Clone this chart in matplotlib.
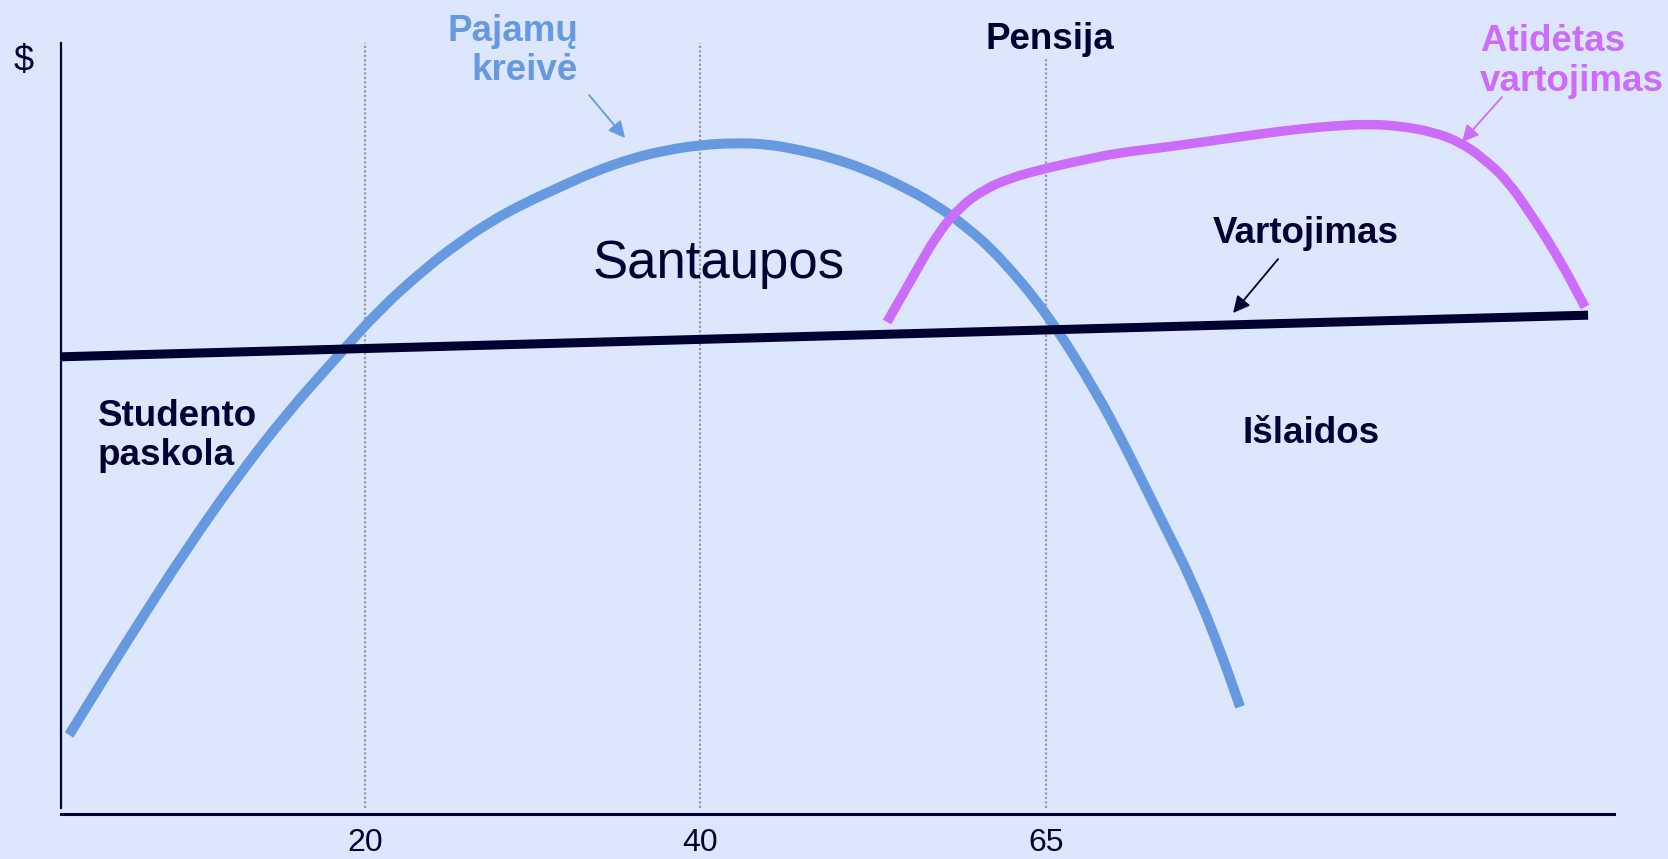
import matplotlib
matplotlib.use("Agg")
import matplotlib.pyplot as plt
from matplotlib.path import Path
from matplotlib.patches import PathPatch

plt.rcParams['font.family'] = ['Liberation Sans', 'DejaVu Sans']

#* Colours
BG = "#dce6fd"
NAVY = "#000033"
BLUE = "#6699e0"
PURPLE = "#cc6cfa"
GREY = "#999999"

#* Data (abstract life-time units on x, $ on y, both 0..100)
income_x = [0.52, 2.70, 5.41, 8.18, 11.20, 14.55, 17.77, 20.54, 23.57, 25.69, 27.82,
            30.01, 32.13, 34.26, 36.83, 39.02, 41.15, 43.27, 45.46, 47.59, 49.71, 51.9,
            54.02, 56.15, 58.34, 60.46, 63.49, 66.71, 68.64, 70.77, 72.89, 74.63, 75.92]
income_y = [10.25, 17.38, 26.07, 34.63, 43.32, 52.01, 59.27, 65.5, 70.95, 74.19, 77.04,
            79.38, 81.32, 83.27, 85.08, 86.12, 86.77, 87.03, 86.9, 86.12, 85.08, 83.53,
            81.58, 79.25, 76.13, 72.24, 64.98, 54.6, 47.2, 38.5, 30.0, 21.3, 13.9]

deferred_x = [53.19, 54.99, 56.47, 57.89, 59.37, 61.11, 63.49, 65.81, 68.0, 71.22,
              74.44, 77.66, 79.78, 81.91, 84.1, 86.22, 88.35, 90.08, 91.57, 93.11,
              94.78, 96.52, 98.13]
deferred_y = [63.81, 70.17, 75.36, 78.73, 80.93, 82.49, 83.79, 84.82, 85.73, 86.51,
              87.42, 88.33, 88.85, 89.24, 89.49, 89.24, 88.46, 87.16, 85.08, 82.23,
              77.43, 71.85, 65.76]

consumption_x = [0.0, 98.33]
consumption_y = [59.3, 64.7]

tick_pos = [19.57, 41.15, 63.43]
tick_labels = ["20", "40", "65"]
vline_top = [100, 100, 98.05]


def smooth_path(xs, ys):
    #* quadratic bezier through the midpoints, read points act as controls
    pts = list(zip(xs, ys))
    verts = [pts[0]]
    codes = [Path.MOVETO]
    for i in range(1, len(pts) - 1):
        mid = ((pts[i][0] + pts[i + 1][0]) / 2, (pts[i][1] + pts[i + 1][1]) / 2)
        verts += [pts[i], mid]
        codes += [Path.CURVE3, Path.CURVE3]
    verts.append(pts[-1])
    codes.append(Path.LINETO)
    return Path(verts, codes)


fig = plt.figure(figsize=(16.68, 8.59), dpi=100)
fig.patch.set_facecolor(BG)
ax = fig.add_axes([0.03657, 0.05239, 0.93106, 0.89755])
ax.set_facecolor(BG)
ax.set_xlim(0, 100)
ax.set_ylim(0, 100)

#* Axes lines
for side in ["top", "right"]:
    ax.spines[side].set_visible(False)
ax.spines["left"].set_color(NAVY)
ax.spines["left"].set_linewidth(1.6)
ax.spines["left"].set_bounds(0.78, 100)
ax.spines["bottom"].set_color(NAVY)
ax.spines["bottom"].set_linewidth(2.2)
ax.set_yticks([])
ax.set_xticks(tick_pos, tick_labels)
ax.tick_params(axis="x", length=0, pad=10, labelsize=23, labelcolor=NAVY)

#* Dotted age markers
for xp, top in zip(tick_pos, vline_top):
    ax.plot([xp, xp], [0.78, top], color=GREY, lw=1.6, ls=(0, (1, 1)), zorder=1)

#* Curves
ax.add_patch(PathPatch(smooth_path(income_x, income_y), facecolor="none",
                       edgecolor=BLUE, lw=7.2, capstyle="butt", zorder=3))
ax.add_patch(PathPatch(smooth_path(deferred_x, deferred_y), facecolor="none",
                       edgecolor=PURPLE, lw=6.8, capstyle="butt", zorder=3))
ax.plot(consumption_x, consumption_y, color=NAVY, lw=6.5, solid_capstyle="butt", zorder=4)

#* Labels
ax.text(-2.4, 97.6, "$", fontsize=26, color=NAVY, ha="center", va="center", clip_on=False)
ax.text(33.29, 99.0, "Pajamų\nkreivė", fontsize=26.5, fontweight="bold", color=BLUE,
        ha="right", va="center", linespacing=1.16, clip_on=False)
ax.text(63.65, 99.2, "Pensija", fontsize=26.5, fontweight="bold", color=NAVY,
        ha="center", va="baseline", clip_on=False)
ax.text(91.37, 97.6, "Atidėtas\nvartojimas", fontsize=26.5, fontweight="bold", color=PURPLE,
        ha="left", va="center", linespacing=1.16, clip_on=False)
ax.text(74.18, 74.06, "Vartojimas", fontsize=26.5, fontweight="bold", color=NAVY,
        ha="left", va="baseline")
ax.text(76.05, 48.1, "Išlaidos", fontsize=26.5, fontweight="bold", color=NAVY,
        ha="left", va="baseline")
ax.text(2.38, 49.0, "Studento\npaskola", fontsize=26.5, fontweight="bold", color=NAVY,
        ha="left", va="center", linespacing=1.16)
ax.text(34.26, 69.5, "Santaupos", fontsize=38, color=NAVY, ha="left", va="baseline")

#* Arrows
arrows = [((34.0, 93.26), (36.32, 87.68), BLUE),
          ((78.37, 71.98), (75.47, 64.98), NAVY),
          ((92.79, 93.0), (90.21, 87.16), PURPLE)]
for start, end, col in arrows:
    ax.annotate("", xy=end, xytext=start,
                arrowprops=dict(arrowstyle="-|>", color=col, lw=1.3, mutation_scale=25,
                                shrinkA=0, shrinkB=0), zorder=5)

fig.savefig("out.png", dpi=100, facecolor=BG)
